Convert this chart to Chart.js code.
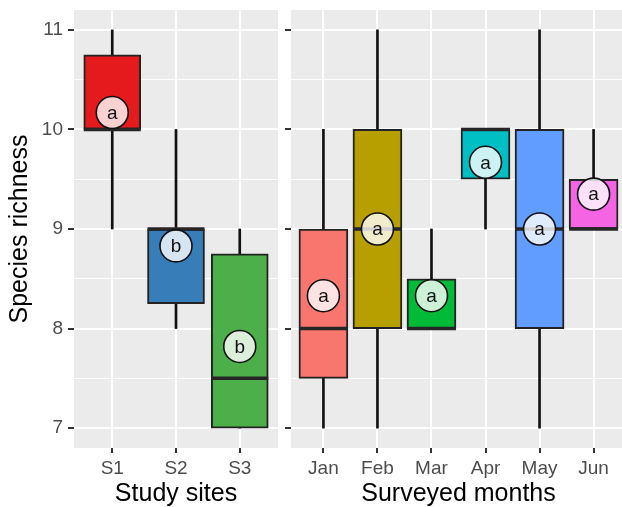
<!DOCTYPE html>
<html>
<head>
<meta charset="utf-8">
<script src="https://cdn.jsdelivr.net/npm/chart.js@4"></script>
<style>
  html, body { margin: 0; padding: 0; background: #fff; overflow: hidden; width: 622px; height: 507px; position: relative; }
  #sites { position: absolute; left: 0; top: 0; }
  #months { position: absolute; left: 280px; top: 0; }
</style>
</head>
<body>
<canvas id="sites" width="280" height="507"></canvas>
<canvas id="months" width="346" height="507"></canvas>
<script>
// Species richness by study site
const sites = ['S1', 'S2', 'S3'];
const siteMin = [9, 8, 7];
const siteQ1 = [10, 8.25, 7];
const siteMedian = [10, 9, 7.5];
const siteQ3 = [10.75, 9, 8.75];
const siteMax = [11, 10, 9];
const siteLetters = ['a', 'b', 'b'];
const siteLetterY = [10.17, 8.83, 7.82];
const siteColors = ['#E41A1C', '#377EB8', '#4DAF4A'];

// Species richness by surveyed month
const months = ['Jan', 'Feb', 'Mar', 'Apr', 'May', 'Jun'];
const monthMin = [7, 7, 8, 9, 7, 9];
const monthQ1 = [7.5, 8, 8, 9.5, 8, 9];
const monthMedian = [8, 9, 8, 10, 9, 9];
const monthQ3 = [9, 10, 8.5, 10, 10, 9.5];
const monthMax = [10, 11, 9, 10, 11, 10];
const monthLetters = ['a', 'a', 'a', 'a', 'a', 'a'];
const monthLetterY = [8.33, 9.0, 8.33, 9.67, 9.0, 9.35];
const monthColors = ['#F8766D', '#B79F00', '#00BA38', '#00BFC4', '#619CFF', '#F564E3'];

// Shared y axis
const yTicks = [7, 7.5, 8, 8.5, 9, 9.5, 10, 10.5, 11];
const yRange = [6.8, 11.2];

const FONT = '"Liberation Sans", Arial, Helvetica, sans-serif';

// Grey panel background plus the letters inside the group circles
const panelPlugin = {
  id: 'panel',
  beforeDraw(chart) {
    const { ctx, chartArea: a } = chart;
    ctx.save();
    ctx.fillStyle = '#EBEBEB';
    ctx.fillRect(a.left, a.top, a.right - a.left, a.bottom - a.top);
    ctx.restore();
  },
  afterDatasetsDraw(chart) {
    const { ctx } = chart;
    chart.data.datasets.forEach((ds, di) => {
      if (!ds.letters) return;
      const meta = chart.getDatasetMeta(di);
      ctx.save();
      ctx.font = '19px ' + FONT;
      ctx.fillStyle = '#111';
      ctx.textAlign = 'center';
      ctx.textBaseline = 'middle';
      meta.data.forEach((pt, i) => ctx.fillText(ds.letters[i], pt.x, pt.y + 1));
      ctx.restore();
    });
  }
};

// keep the panel edges exactly where the fixed axis sizes put them
function noLabelPadding(s) {
  s.paddingLeft = 0;
  s.paddingRight = 0;
  s.paddingTop = 0;
  s.paddingBottom = 0;
}

function boxPanel(id, cats, lo, q1, med, q3, hi, letters, letterY, colors, cfg) {
  const idx = cats.map((c, i) => i);
  return new Chart(document.getElementById(id), {
    type: 'bar',
    data: {
      datasets: [
        {
          label: 'whisker',
          order: 4,
          grouped: false,
          data: idx.map(i => ({ x: i, y: [lo[i], hi[i]] })),
          backgroundColor: '#111111',
          borderWidth: 0,
          barThickness: 2
        },
        {
          label: 'box',
          order: 3,
          grouped: false,
          data: idx.map(i => ({ x: i, y: [q1[i], q3[i]] })),
          backgroundColor: colors,
          borderColor: '#222222',
          borderWidth: 2,
          borderSkipped: false,
          barThickness: cfg.boxWidth
        },
        {
          type: 'scatter',
          label: 'median',
          order: 2,
          data: idx.map(i => ({ x: i, y: med[i] })),
          pointStyle: 'line',
          pointRadius: cfg.boxWidth / 2,
          pointBorderColor: '#262626',
          pointBorderWidth: 3.5
        },
        {
          type: 'scatter',
          label: 'group',
          order: 1,
          letters: letters,
          data: idx.map(i => ({ x: i, y: letterY[i] })),
          pointStyle: 'circle',
          pointRadius: 16,
          pointBackgroundColor: 'rgba(255,255,255,0.8)',
          pointBorderColor: '#111111',
          pointBorderWidth: 1.6
        }
      ]
    },
    options: {
      responsive: false,
      animation: false,
      events: [],
      layout: { padding: cfg.padding, autoPadding: false },
      plugins: { legend: { display: false }, tooltip: { enabled: false } },
      scales: {
        x: {
          type: 'linear',
          min: -0.6,
          max: cats.length - 0.4,
          offset: false,
          afterBuildTicks: s => { s.ticks = idx.map(i => ({ value: i })); },
          afterFit: s => { s.height = 59; noLabelPadding(s); },
          ticks: {
            callback: v => cats[v],
            color: '#4D4D4D',
            font: { family: FONT, size: 19 },
            padding: 4,
            autoSkip: false,
            maxRotation: 0
          },
          grid: {
            color: '#ffffff',
            lineWidth: 2,
            offset: false,
            tickColor: '#333333',
            tickLength: 5,
            tickWidth: 2
          },
          border: { display: false },
          title: {
            display: true,
            text: cfg.xTitle,
            color: '#000',
            font: { family: FONT, size: 25, lineHeight: 1 },
            padding: { top: 0, bottom: 0 }
          }
        },
        y: {
          type: 'linear',
          min: yRange[0],
          max: yRange[1],
          afterBuildTicks: s => { s.ticks = yTicks.map(v => ({ value: v })); },
          afterFit: s => { s.width = cfg.yWidth; noLabelPadding(s); },
          ticks: {
            display: cfg.yLabels,
            callback: v => Number.isInteger(v) ? String(v) : '',
            color: '#4D4D4D',
            font: { family: FONT, size: 19 },
            padding: 5
          },
          grid: {
            color: '#ffffff',
            lineWidth: c => Number.isInteger(c.tick.value) ? 2 : 1,
            tickColor: c => Number.isInteger(c.tick.value) ? '#333333' : 'rgba(0,0,0,0)',
            tickLength: 6,
            tickWidth: 2
          },
          border: { display: false },
          title: {
            display: !!cfg.yTitle,
            text: cfg.yTitle,
            color: '#000',
            font: { family: FONT, size: 25 },
            padding: { top: 5, bottom: 0 }
          }
        }
      }
    },
    plugins: [panelPlugin]
  });
}

boxPanel('sites', sites, siteMin, siteQ1, siteMedian, siteQ3, siteMax,
  siteLetters, siteLetterY, siteColors,
  { boxWidth: 57, yWidth: 74, yLabels: true, yTitle: 'Species richness', xTitle: 'Study sites',
    padding: { top: 10, right: 2, left: 0, bottom: 0 } });

boxPanel('months', months, monthMin, monthQ1, monthMedian, monthQ3, monthMax,
  monthLetters, monthLetterY, monthColors,
  { boxWidth: 49, yWidth: 11, yLabels: false, yTitle: '', xTitle: 'Surveyed months',
    padding: { top: 10, right: 0, left: 0, bottom: 0 } });
</script>
</body>
</html>
